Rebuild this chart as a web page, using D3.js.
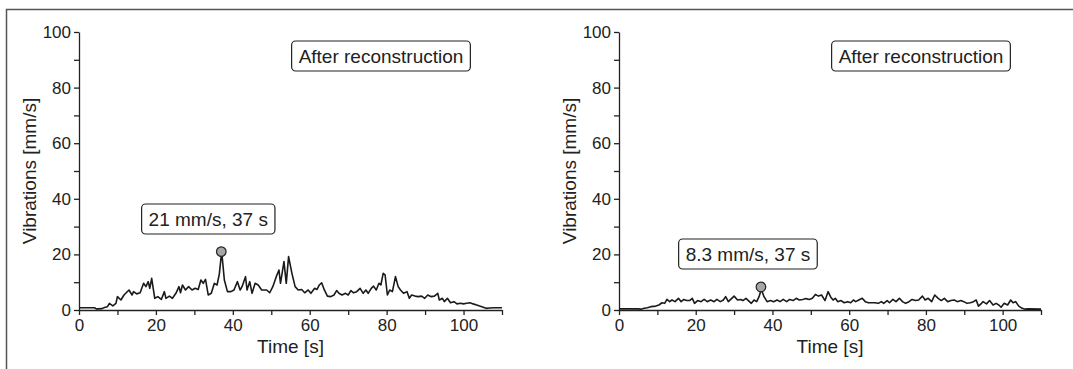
<!DOCTYPE html>
<meta charset="utf-8">
<title>Vibrations after reconstruction</title>
<style>
body {
  margin: 0;
  background: #fff;
}
svg {
  font-family: "Liberation Sans", Arial, sans-serif;
}
.axis path, .axis line {
  stroke: #222;
  stroke-width: 1.3px;
}
.axis text {
  fill: #222;
  font-size: 17px;
}
.trace {
  fill: none;
  stroke: #1a1a1a;
  stroke-width: 1.6px;
  stroke-linejoin: round;
}
.box {
  fill: #fff;
  stroke: #222;
  stroke-width: 1.2px;
}
.label {
  fill: #222;
  font-size: 19px;
}
</style>
<svg></svg>
<script src="https://cdn.jsdelivr.net/npm/d3@7"></script>
<script>
// values: time [s] and vibration [mm/s]
var leftTime = [0, 2, 4, 4.5, 5, 6, 6.6, 7.4, 7.9, 8.8, 9.6, 10, 10.9, 11.7, 13, 13.8, 14.2, 15, 15.9, 16.8, 17.4, 18, 18.4, 18.9, 19.7, 20.5, 21.4, 22.2, 22.6, 23.5, 24.3, 25.2, 26, 26.4, 26.9, 27.7, 28.5, 29.4, 30.2, 31, 31.7, 32.3, 32.9, 33.6, 34.4, 35.2, 35.9, 36.5, 37.1, 37.8, 38.6, 39.5, 40.3, 41.2, 41.9, 42.4, 43.3, 43.7, 44.4, 45, 45.8, 46.6, 47.5, 48.8, 49.6, 50.4, 51.3, 52, 52.4, 53.3, 53.9, 54.5, 55.4, 56.2, 57, 57.9, 58.7, 59.6, 60.3, 61.3, 61.9, 62.5, 63.1, 63.8, 64.6, 65.5, 66.3, 67, 67.6, 68.4, 69.3, 70, 70.7, 71.4, 72.2, 73.1, 73.9, 74.6, 75.2, 76, 76.6, 77.3, 78, 78.5, 79.1, 79.6, 80.2, 80.8, 81.5, 82.3, 83, 83.6, 84.4, 85.3, 85.9, 86.5, 87.4, 88.2, 89.1, 89.9, 90.7, 91.6, 92.4, 93.3, 93.7, 94.5, 95, 95.8, 96.6, 97.5, 98.3, 99.2, 100, 100.8, 101.7, 102.5, 103.4, 104.2, 105.1, 105.9, 106.7, 108, 110];
var leftVib = [0.8, 0.8, 0.8, 0.4, 0.4, 0.5, 0.9, 1.2, 2.4, 1.5, 2.4, 4.8, 3.6, 5.4, 7.2, 5.4, 6.6, 5.8, 6.2, 9.6, 8.4, 10.2, 7.8, 11.4, 4.2, 4.8, 3.8, 6.6, 4.2, 5, 4.2, 6, 8.4, 6.2, 9, 7.2, 8.4, 7.2, 7.8, 7.4, 10.8, 9.6, 11, 5.4, 6, 9.6, 9, 13, 21, 10.8, 6.6, 6.6, 7.2, 10.2, 7.2, 8.4, 12, 7.2, 10.2, 6, 9.6, 9, 7.2, 7.2, 6.2, 8.4, 12, 14.4, 9.6, 17.4, 9.6, 19.2, 13, 8.4, 7.2, 7.4, 6.2, 7.2, 6, 7.8, 7.4, 9, 9.8, 7.2, 5, 4.8, 5.4, 7, 6, 5.4, 6, 5.4, 7, 6.2, 6.6, 7.8, 6, 7.2, 6, 7.8, 8.6, 7.2, 9.6, 9, 13.2, 12.6, 5.4, 7.2, 6.6, 12, 8.4, 7.2, 6, 6.6, 4.2, 5.4, 5, 4.8, 5, 4.2, 5.4, 4.8, 5, 6, 3.6, 4.2, 3, 4.2, 2.6, 3, 2.2, 2.4, 2.2, 2.4, 2.6, 2.2, 1.8, 1.4, 1, 0.6, 0.7, 0.8, 0.8];

var rightTime = [0, 4.9, 5.7, 6.6, 7.4, 8.3, 9.6, 10.4, 11.2, 11.9, 12.5, 13.2, 13.8, 14.6, 15.5, 16.2, 16.9, 17.6, 18.4, 19.1, 19.7, 20.5, 21.4, 22.2, 23, 23.9, 24.8, 25.5, 26.4, 27.2, 27.8, 28.5, 29.4, 30, 30.9, 31.7, 32.3, 33.1, 34, 34.5, 35.2, 35.9, 36.5, 37.1, 37.8, 38.6, 39.5, 40.3, 41.2, 42, 42.8, 43.7, 44.5, 45.4, 46.2, 47, 47.9, 48.7, 49.6, 50.4, 51.2, 52, 52.8, 53.7, 54.5, 55.2, 55.8, 56.4, 57, 57.9, 58.7, 59.6, 60.4, 61.1, 61.7, 62.5, 63.4, 64.2, 65, 65.9, 66.7, 67.6, 68.4, 69, 69.9, 70.5, 71.4, 72.2, 73.1, 73.9, 74.7, 75.6, 76.4, 77.3, 78.1, 79.1, 79.8, 80.6, 81.5, 82.3, 83.2, 84, 84.8, 85.7, 86.5, 87.4, 88.2, 89.1, 89.9, 90.7, 91.6, 92.4, 93.1, 93.7, 94.5, 94.9, 95.8, 96.6, 97.5, 98.3, 99, 99.6, 100.4, 101.3, 102.1, 102.7, 103.4, 104.2, 105.1, 105.9, 106.7, 110];
var rightVib = [0.4, 0.4, 0.3, 0.6, 0.8, 1.2, 1.4, 1.8, 2.6, 2.4, 3.8, 3, 3.6, 3, 4.2, 3, 3.8, 3.4, 3.4, 4.2, 2.4, 3.4, 3, 3.8, 3, 3.6, 3, 3.8, 3, 3.6, 4.8, 3, 4.2, 5, 3.6, 3.8, 3.4, 4.2, 3, 2.4, 3.6, 3, 4.8, 7.5, 4.8, 3, 3.4, 3, 3.6, 3, 3.8, 3, 3.8, 3.4, 4.2, 3.6, 3.8, 4.1, 3.8, 4.2, 5.6, 5, 5.4, 3.4, 6.6, 4.6, 3.6, 4.2, 3, 3.4, 2.6, 3, 2.6, 3.6, 3, 3.6, 4.2, 3, 2.6, 2.6, 2.6, 2.4, 3, 2.4, 3.4, 2.6, 3.8, 3, 4.2, 3, 2.4, 3, 3.8, 3.4, 3.6, 5, 3.6, 4.2, 3, 5.4, 4.2, 3.4, 4.2, 3, 3.4, 3.6, 3, 3.4, 3, 2.4, 2.6, 3, 3.6, 1.4, 2.4, 3, 2.2, 3.4, 1.8, 2.4, 1.8, 1, 2.4, 1.8, 3.6, 2.6, 3, 1.4, 0.6, 0.3, 0.4, 0.3];

var titles = ["After reconstruction", "After reconstruction"];
var peakTime = [37, 37];
var peakVib = [21, 8.3];
var peakLabels = ["21 mm/s, 37 s", "8.3 mm/s, 37 s"];
var xTicks = d3.range(0, 111, 10);
var yTicks = d3.range(0, 101, 10);

var width = 1073,
    height = 369;

var svg = d3.select("svg")
    .attr("width", width)
    .attr("height", height);

// frame, only the top and left edges show in the picture
svg.append("path")
    .attr("d", "M6.5," + height + "V9.5H" + width)
    .attr("fill", "none")
    .attr("stroke", "#555")
    .attr("stroke-width", 1.5);

var panels = [
  {left: 79, right: 502, time: leftTime, vib: leftVib, titleX: 381, peakBoxY: 219},
  {left: 619, right: 1041, time: rightTime, vib: rightVib, titleX: 921, peakBoxY: 254}
];
var plotTop = 32, plotBottom = 310;

panels.forEach(function(p, i) {
  var x = d3.scaleLinear().domain([0, 110]).range([p.left, p.right]);
  var y = d3.scaleLinear().domain([0, 100]).range([plotBottom, plotTop]);
  var g = svg.append("g");

  g.append("g")
      .attr("class", "axis")
      .attr("transform", "translate(0," + plotBottom + ")")
      .call(d3.axisBottom(x).tickValues(xTicks).tickSize(5).tickSizeOuter(0).tickPadding(4)
        .tickFormat(function(d) { return d % 20 === 0 ? d : ""; }));

  g.append("g")
      .attr("class", "axis")
      .attr("transform", "translate(" + p.left + ",0)")
      .call(d3.axisLeft(y).tickValues(yTicks).tickSize(5).tickSizeOuter(0).tickPadding(3)
        .tickFormat(function(d) { return d % 20 === 0 ? d : ""; }));

  var line = d3.line()
      .x(function(d, j) { return x(p.time[j]); })
      .y(function(d) { return y(d); });

  g.append("path")
      .attr("class", "trace")
      .attr("d", line(p.vib));

  g.append("circle")
      .attr("cx", x(peakTime[i]))
      .attr("cy", y(peakVib[i]))
      .attr("r", 4.8)
      .attr("fill", "#a6a6a6")
      .attr("stroke", "#222")
      .attr("stroke-width", 1.2);

  // axis titles
  g.append("text")
      .attr("class", "label")
      .attr("text-anchor", "middle")
      .attr("transform", "translate(" + (p.left - 43) + "," + ((plotTop + plotBottom) / 2) + ") rotate(-90)")
      .text("Vibrations [mm/s]");

  g.append("text")
      .attr("class", "label")
      .attr("text-anchor", "middle")
      .attr("x", (p.left + p.right) / 2)
      .attr("y", 353)
      .text("Time [s]");

  // boxed labels
  addBox(g, p.titleX, 56, titles[i]);
  addBox(g, x(peakTime[i]) - 13, p.peakBoxY, peakLabels[i]);
});

function addBox(g, cx, cy, label) {
  var box = g.append("rect").attr("class", "box");
  var t = g.append("text")
      .attr("class", "label")
      .attr("text-anchor", "middle")
      .attr("x", cx)
      .attr("y", cy + 7)
      .text(label);
  var w = t.node().getComputedTextLength() + 14;
  box.attr("x", cx - w / 2)
      .attr("y", cy - 15)
      .attr("width", w)
      .attr("height", 30)
      .attr("rx", 4);
}
</script>
